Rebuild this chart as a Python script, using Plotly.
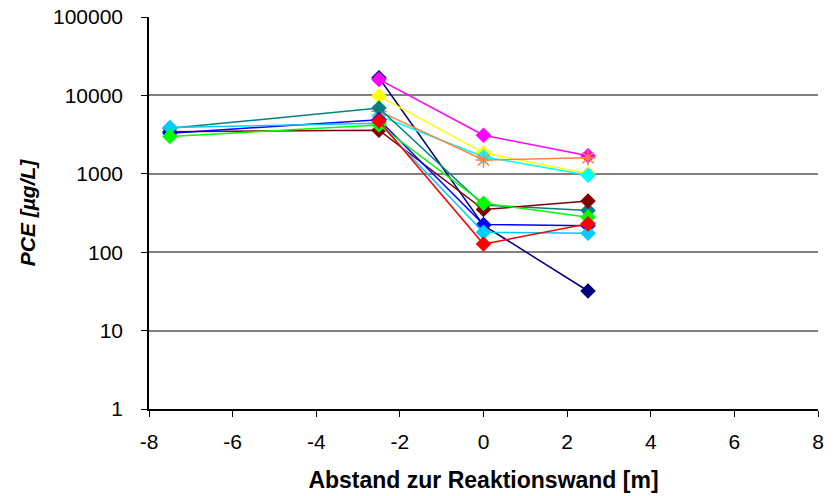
import plotly.graph_objects as go

x_pos = [-7.5, -2.5, 0, 2.5]

series_names = ["S1", "S2", "S3", "S4", "S5", "S6", "S7", "S8", "S9", "S10", "S11"]
series_colors = ["#000080", "#FF00FF", "#FFFF00", "#00FFFF", "#FF8040", "#008080",
                 "#800000", "#0000FF", "#00CCFF", "#00FF00", "#FF0000"]
series_values = [
    [None, 16800, 220, 32],
    [None, 16000, 3100, 1700],
    [None, 9800, 1850, 1000],
    [None, 5500, 1650, 960],
    [None, 6300, 1500, 1600],
    [3800, 6900, 400, 340],
    [3450, 3600, 350, 450],
    [3300, 4900, 225, 218],
    [3900, 4400, 180, 175],
    [3000, 4200, 420, 280],
    [None, 4700, 127, 230],
]
series_markers = ["diamond", "diamond", "diamond", "diamond", "asterisk-open", "diamond",
                  "diamond", "diamond", "diamond", "diamond", "diamond"]

y_tickvals = [1, 10, 100, 1000, 10000, 100000]
y_ticktext = ["1", "10", "100", "1000", "10000", "100000"]
x_tickvals = [-8, -6, -4, -2, 0, 2, 4, 6, 8]
x_ticktext = ["-8", "-6", "-4", "-2", "0", "2", "4", "6", "8"]

fig = go.Figure()
for name, col, vals, mk in zip(series_names, series_colors, series_values, series_markers):
    xs = [x for x, v in zip(x_pos, vals) if v is not None]
    ys = [v for v in vals if v is not None]
    if mk == "diamond":
        marker = dict(symbol="diamond", size=12, color=col, line=dict(width=0))
    else:
        marker = dict(symbol="asterisk-open", size=13, color=col, line=dict(width=1.5, color=col))
    fig.add_trace(go.Scatter(x=xs, y=ys, mode="lines+markers", name=name,
                             line=dict(color=col, width=1.5), marker=marker,
                             showlegend=False))

fig.update_layout(
    width=838, height=496,
    margin=dict(l=149, r=20, t=17, b=87),
    paper_bgcolor="white", plot_bgcolor="white",
    font=dict(family="Liberation Sans, Arial, sans-serif", size=21, color="black"),
)
fig.update_xaxes(range=[-8, 8], tickvals=x_tickvals, ticktext=x_ticktext,
                 showgrid=False, zeroline=False, automargin=False,
                 showline=True, linecolor="black", linewidth=1.5,
                 ticks="outside", ticklen=6, tickcolor="black",
                 ticklabelstandoff=7,
                 title=dict(text="<b>Abstand zur Reaktionswand [m]</b>", standoff=20,
                            font=dict(size=23)))
fig.update_yaxes(type="log", range=[0, 5], tickvals=y_tickvals, ticktext=y_ticktext,
                 showgrid=True, gridcolor="#808080", gridwidth=1.5, zeroline=False,
                 automargin=False,
                 showline=True, linecolor="black", linewidth=1.5,
                 ticks="outside", ticklen=6, tickcolor="black",
                 ticklabelstandoff=14,
                 title=dict(text="<b><i>PCE [µg/L]</i></b>", standoff=12,
                            font=dict(size=21)))

fig.write_html("out.html")
